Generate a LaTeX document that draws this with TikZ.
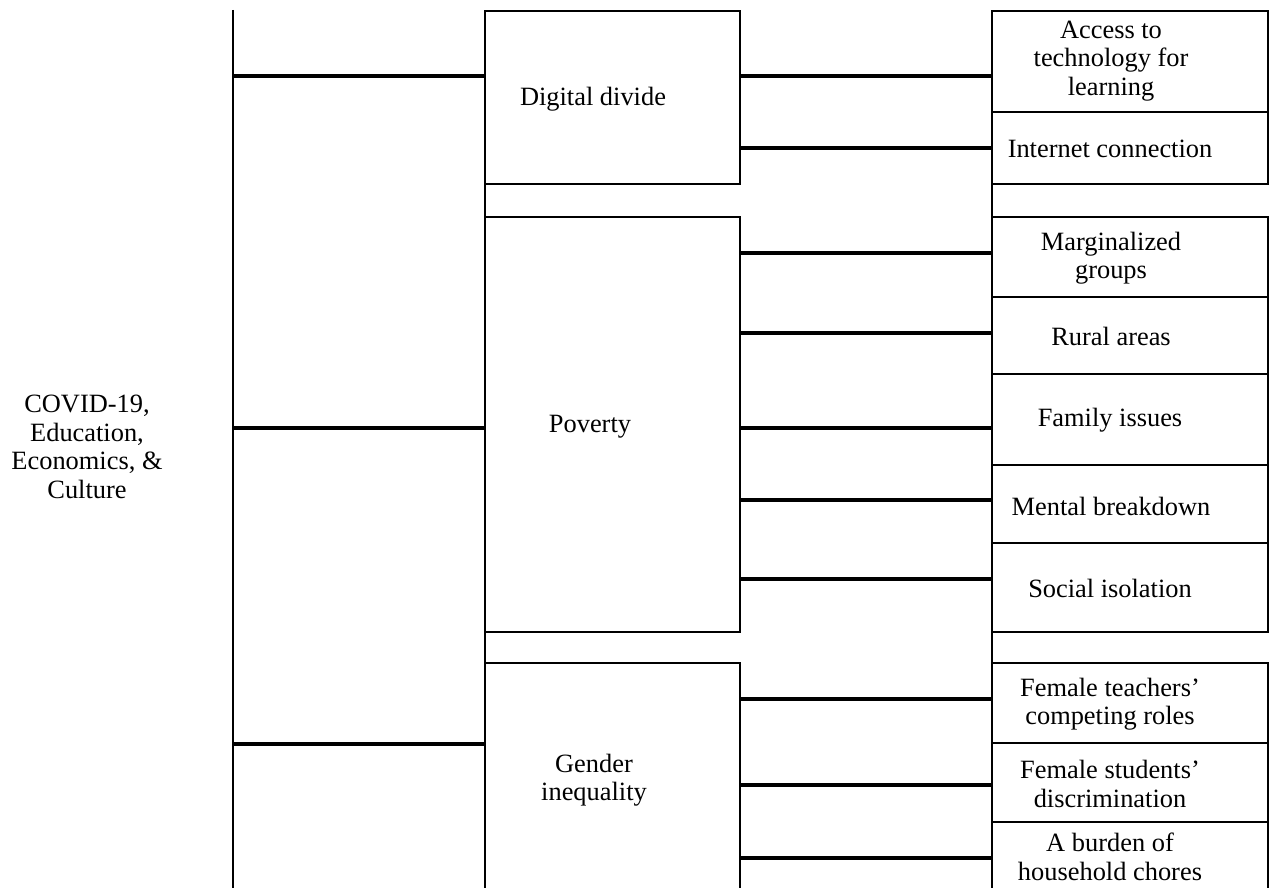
\documentclass[tikz,border=0pt]{standalone}
\usepackage{fontspec}
\setmainfont{Liberation Serif}
\begin{document}
\begin{tikzpicture}[x=1pt,y=-1pt,
  box/.style={draw,line width=2pt,anchor=north west,inner sep=0pt,outer sep=0pt},
  thin/.style={line width=2pt},
  branch/.style={line width=3.6pt},
  txt/.style={align=center,inner sep=0pt,font=\fontsize{26.4}{28.6}\selectfont}]
\useasboundingbox (0,0) rectangle (1275,888);
% middle column boxes
\node[box,minimum width=255pt,minimum height=173pt] (dd)  at (485,11)  {};
\node[box,minimum width=255pt,minimum height=415pt] (pov) at (485,217) {};
\node[box,minimum width=255pt,minimum height=235pt] (gen) at (485,663) {};
% right column boxes
\node[box,minimum width=276pt,minimum height=101pt] (acc) at (992,11)  {};
\node[box,minimum width=276pt,minimum height=72pt]  (int) at (992,112) {};
\node[box,minimum width=276pt,minimum height=80pt]  (mar) at (992,217) {};
\node[box,minimum width=276pt,minimum height=77pt]  (rur) at (992,297) {};
\node[box,minimum width=276pt,minimum height=91pt]  (fam) at (992,374) {};
\node[box,minimum width=276pt,minimum height=78pt]  (men) at (992,465) {};
\node[box,minimum width=276pt,minimum height=89pt]  (soc) at (992,543) {};
\node[box,minimum width=276pt,minimum height=80pt]  (fte) at (992,663) {};
\node[box,minimum width=276pt,minimum height=79pt]  (fst) at (992,743) {};
\node[box,minimum width=276pt,minimum height=80pt]  (bur) at (992,822) {};
% gaps of the column left lines
\draw[thin] (dd.south west) -- (pov.north west);
\draw[thin] (pov.south west) -- (gen.north west);
\draw[thin] (int.south west) -- (mar.north west);
\draw[thin] (soc.south west) -- (fte.north west);
% trunk
\coordinate (ttop) at (233,10);
\coordinate (tbot) at (233,890);
\draw[thin] (ttop) -- (tbot);
\coordinate (b1) at (233,76);
\coordinate (b2) at (233,428);
\coordinate (b3) at (233,744);
\draw[branch] (b1) -- (b1 -| dd.west);
\draw[branch] (b2) -- (b2 -| pov.west);
\draw[branch] (b3) -- (b3 -| gen.west);
% middle to right connectors
\coordinate (c1) at (740,76);
\coordinate (c2) at (740,148);
\coordinate (c3) at (740,253);
\coordinate (c4) at (740,333);
\coordinate (c5) at (740,428);
\coordinate (c6) at (740,500);
\coordinate (c7) at (740,579);
\coordinate (c8) at (740,699);
\coordinate (c9) at (740,785);
\coordinate (c10) at (740,858);
\draw[branch] (c1) -- (c1 -| acc.west);
\draw[branch] (c2) -- (c2 -| int.west);
\draw[branch] (c3) -- (c3 -| mar.west);
\draw[branch] (c4) -- (c4 -| rur.west);
\draw[branch] (c5) -- (c5 -| fam.west);
\draw[branch] (c6) -- (c6 -| men.west);
\draw[branch] (c7) -- (c7 -| soc.west);
\draw[branch] (c8) -- (c8 -| fte.west);
\draw[branch] (c9) -- (c9 -| fst.west);
\draw[branch] (c10) -- (c10 -| bur.west);
% texts
\node[txt] (tcovid) at (87,447) {COVID-19,\\Education,\\Economics, \&\\Culture};
\node[txt] (tdd) at (593,99) {Digital divide};
\node[txt] (tpov) at (590,427) {Poverty};
\node[txt] (tgen) at (594,780) {Gender\\inequality};
\node[txt] (tacc) at (1111,61) {Access to\\technology for\\learning};
\node[txt] (tint) at (1110,149) {Internet connection};
\node[txt] (tmar) at (1111,258) {Marginalized\\groups};
\node[txt] (trur) at (1111,336) {Rural areas};
\node[txt] (tfam) at (1110,420) {Family issues};
\node[txt] (tmen) at (1111,506) {Mental breakdown};
\node[txt] (tsoc) at (1110,588) {Social isolation};
\node[txt] (tfte) at (1110,704) {Female teachers’\\competing roles};
\node[txt] (tfst) at (1110,784) {Female students’\\discrimination};
\node[txt] (tbur) at (1110,857) {A burden of\\household chores};
\end{tikzpicture}
\end{document}
